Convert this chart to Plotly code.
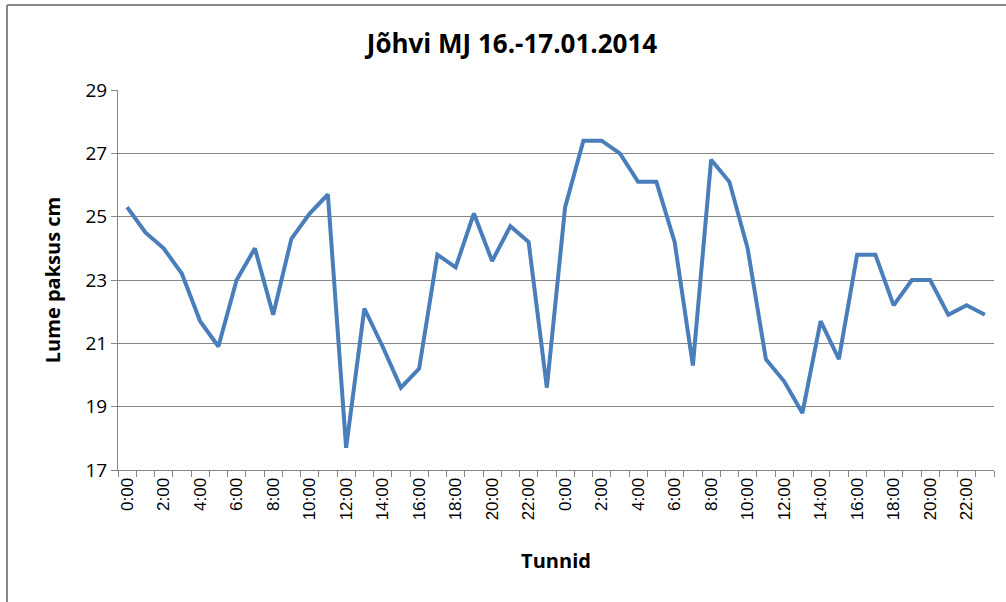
import plotly.graph_objects as go

hours = list(range(48))
snow_cm = [25.3, 24.5, 24.0, 23.2, 21.7, 20.9, 23.0, 24.0, 21.9, 24.3, 25.1, 25.7,
           17.7, 22.1, 20.9, 19.6, 20.2, 23.8, 23.4, 25.1, 23.6, 24.7, 24.2, 19.6,
           25.3, 27.4, 27.4, 27.0, 26.1, 26.1, 24.2, 20.3, 26.8, 26.1, 24.0, 20.5,
           19.8, 18.8, 21.7, 20.5, 23.8, 23.8, 22.2, 23.0, 23.0, 21.9, 22.2, 21.9]
tick_idx = list(range(0, 48, 2))
tick_labels = [f"{i % 24}:00" for i in tick_idx]
y_ticks = [17, 19, 21, 23, 25, 27, 29]

W, H = 1006, 602
L, R, T, B = 118, 994, 90, 470

fig = go.Figure()
fig.add_trace(go.Scatter(x=hours, y=snow_cm, mode="lines",
                         line=dict(color="#4A7EBB", width=4), showlegend=False))

def px_x(p):
    return (p - L) / (R - L)

def px_y(p):
    return (B - p) / (B - T)

border = dict(color="#878787", width=2)
fig.add_shape(type="line", xref="paper", yref="paper",
              x0=px_x(7), x1=px_x(7), y0=px_y(5), y1=px_y(610), line=border)
fig.add_shape(type="line", xref="paper", yref="paper",
              x0=px_x(7), x1=px_x(1010), y0=px_y(5), y1=px_y(5), line=border)

fig.update_layout(
    width=W, height=H,
    margin=dict(l=L, r=W - R, t=T, b=H - B),
    paper_bgcolor="white", plot_bgcolor="white",
    title=dict(text="<b>Jõhvi MJ 16.-17.01.2014</b>", x=512 / W, xref="container",
               xanchor="center", y=1 - 44 / H, yref="container", yanchor="middle",
               font=dict(family="Open Sans, Lato, sans-serif", size=26, color="#000000")),
    xaxis=dict(
        range=[-0.5, 47.5], tickmode="array", tickvals=tick_idx, ticktext=tick_labels,
        tickangle=-90, ticks="", showgrid=False, zeroline=False,
        showline=True, linecolor="#868686", linewidth=1,
        tickfont=dict(family="Liberation Sans, Arial, sans-serif", size=17, color="#000000"),
        minor=dict(tickmode="array", tickvals=[k - 0.5 for k in range(49)],
                   ticks="outside", ticklen=6, tickcolor="#868686", showgrid=False),
        title=dict(text="<b>Tunnid</b>", standoff=34,
                   font=dict(family="Open Sans, Lato, sans-serif", size=20, color="#000000")),
    ),
    yaxis=dict(
        range=[17, 29], tickmode="array", tickvals=y_ticks, ticks="outside", ticklen=6,
        tickcolor="#868686", showgrid=True, gridcolor="#868686", gridwidth=1,
        zeroline=False, showline=True, linecolor="#868686", linewidth=1,
        tickfont=dict(family="Open Sans, Lato, sans-serif", size=19, color="#000000"),
        title=dict(text="<b>Lume paksus cm</b>", standoff=19,
                   font=dict(family="Open Sans, Lato, sans-serif", size=20, color="#000000")),
    ),
)

fig.write_html("out.html", config={"displayModeBar": False},
               post_script="document.body.style.margin='0px';document.body.style.overflow='hidden';")
